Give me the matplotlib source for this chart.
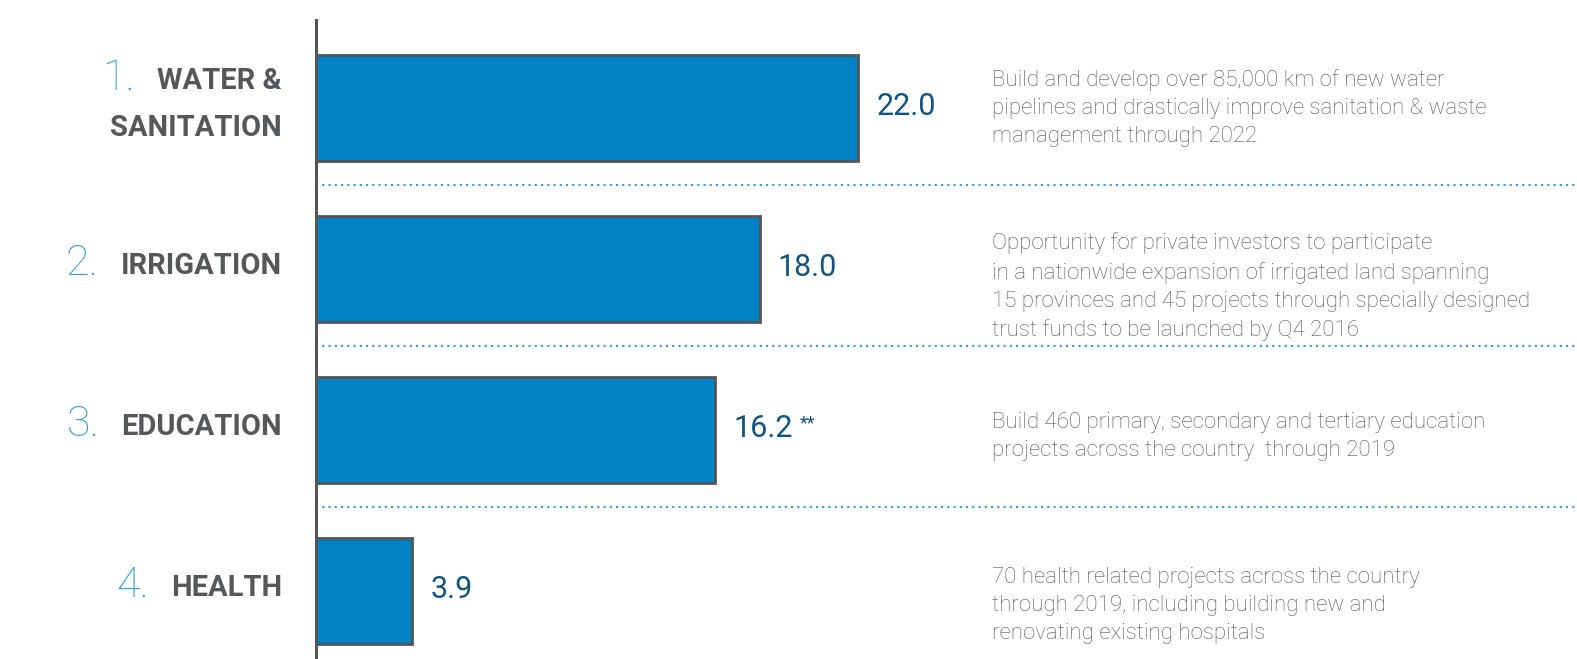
import matplotlib
matplotlib.use("Agg")
import matplotlib.pyplot as plt

# ── DATA ───────────────────────────────────────────────────────
ranks      = ["1.", "2.", "3.", "4."]
categories = ["WATER &\nSANITATION", "IRRIGATION", "EDUCATION", "HEALTH"]
values     = [22.0, 18.0, 16.2, 3.9]
notes      = ["", "", "**", ""]
details    = [
    "Build and develop over 85,000 km of new water\n"
    "pipelines and drastically improve sanitation & waste\n"
    "management through 2022",
    "Opportunity for private investors to participate\n"
    "in a nationwide expansion of irrigated land spanning\n"
    "15 provinces and 45 projects through specially designed\n"
    "trust funds to be launched by Q4 2016",
    "Build 460 primary, secondary and tertiary education\n"
    "projects across the country  through 2019",
    "70 health related projects across the country\n"
    "through 2019, including building new and\n"
    "renovating existing hospitals",
]

# ── STYLE ──────────────────────────────────────────────────────
BAR_BLUE   = "#0082c6"
EDGE_GREY  = "#555555"
LABEL_GREY = "#55585b"
TEXT_GREY  = "#555555"
VALUE_BLUE = "#0f5482"
RANK_BLUE  = "#2a9fd8"
FONT       = ["Roboto", "DejaVu Sans"]

W, H = 1577, 659
PX_PER_UNIT = 24.65      # bar length scale in pixels per value unit
ROW_PX = 161             # spacing between bar centres
FIRST_ROW_PX = 108       # centre of first bar from top
AX_LEFT, AX_TOP = 316, 20

fig = plt.figure(figsize=(W / 100, H / 100), dpi=100)
ax = fig.add_axes([AX_LEFT / W, 0, (W - AX_LEFT) / W, (H - AX_TOP) / H])

y = list(range(len(values)))
ax.barh(y, values, height=0.66, color=BAR_BLUE, edgecolor=EDGE_GREY,
        linewidth=2.0, zorder=3)

ax.set_xlim(0, (W - AX_LEFT) / PX_PER_UNIT)
ax.set_ylim((H - FIRST_ROW_PX) / ROW_PX, (AX_TOP - FIRST_ROW_PX) / ROW_PX)

for s in ["top", "right", "bottom"]:
    ax.spines[s].set_visible(False)
ax.spines["left"].set_color(EDGE_GREY)
ax.spines["left"].set_linewidth(2.2)
ax.set_xticks([])
ax.set_yticks([])

# dotted separators between rows
for i in range(len(values) - 1):
    ax.axhline(i + 0.48, color=RANK_BLUE, linewidth=1.5,
               linestyle=(0, (1, 2)), dash_capstyle="butt", zorder=1)

# value labels at the bar ends
for i, (v, n) in enumerate(zip(values, notes)):
    t = ax.annotate(f"{v:.1f}", xy=(v, i), xytext=(13, 1),
                    textcoords="offset points", ha="left", va="center",
                    fontsize=22, fontweight="normal", color=VALUE_BLUE,
                    family=FONT)
    if n:
        ax.annotate(n, xy=(1, 1), xycoords=t, xytext=(5, 0),
                    textcoords="offset points", ha="left", va="top",
                    fontsize=13, color=VALUE_BLUE, family=FONT)

# category labels with rank numbers on the left
label_x = (282 - AX_LEFT) / PX_PER_UNIT
line_gap = 47 / ROW_PX
for i, (rank, cat) in enumerate(zip(ranks, categories)):
    lines = cat.split("\n")
    y0 = i - line_gap * (len(lines) - 1) / 2 - 0.02
    first = None
    for k, line in enumerate(lines):
        t = ax.text(label_x, y0 + k * line_gap, line, ha="right",
                    va="center", fontsize=21, fontweight="bold",
                    color=LABEL_GREY, family=FONT, clip_on=False)
        if first is None:
            first = t
    ax.annotate(rank, xy=(0, 0.5), xycoords=first, xytext=(-16, 2),
                textcoords="offset points", ha="right", va="center",
                fontsize=31, fontweight="light", color=RANK_BLUE,
                family=FONT)

# description text on the right
desc_x = (992 - AX_LEFT) / PX_PER_UNIT
desc_offsets = [0.0, 0.11, 0.04, 0.09]
for i, (d, off) in enumerate(zip(details, desc_offsets)):
    ax.text(desc_x, i + off, d, ha="left", va="center", fontsize=16,
            fontweight="light", color=TEXT_GREY, family=FONT,
            linespacing=1.45)

fig.savefig("out.png", dpi=100, facecolor="white")
